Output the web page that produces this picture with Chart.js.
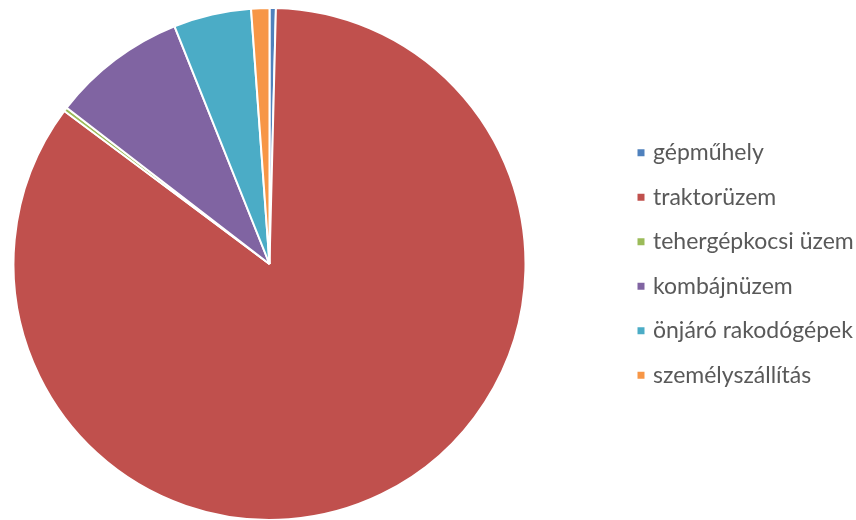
<!DOCTYPE html>
<html lang="hu">
<head>
<meta charset="utf-8">
<title>Üzemek megoszlása</title>
<script src="https://cdn.jsdelivr.net/npm/chart.js@4.4.1/dist/chart.umd.min.js"></script>
<style>
  html, body { margin: 0; padding: 0; background: #fff; overflow: hidden; }
  /* a vászon 80px-lel balra lóg ki, így a kör a bal oldalra kerül */
  #tarolo { position: relative; left: -80px; width: 936px; height: 520px; }
</style>
</head>
<body>
<div id="tarolo">
  <canvas id="grafikon"></canvas>
</div>
<script>
// Kategóriák és részesedések (%)
const kategoriak = [
  'gépműhely',
  'traktorüzem',
  'tehergépkocsi üzem',
  'kombájnüzem',
  'önjáró rakodógépek',
  'személyszállítás'
];
const reszesedes = [0.4, 84.8, 0.25, 8.5, 4.9, 1.15];
const szinek = ['#4F81BD', '#C0504D', '#9BBB59', '#8064A2', '#4BACC6', '#F79646'];

// Jelmagyarázat: a szelet fehér kerete nélkül
function jelmagyarazatElemek(chart) {
  const alap = Chart.overrides.doughnut.plugins.legend.labels.generateLabels;
  return alap(chart).map(elem => ({ ...elem, lineWidth: 0 }));
}

const ctx = document.getElementById('grafikon').getContext('2d');
new Chart(ctx, {
  type: 'pie',
  data: {
    labels: kategoriak,
    datasets: [{
      data: reszesedes,
      backgroundColor: szinek,
      borderColor: '#ffffff',
      borderWidth: 2
    }]
  },
  options: {
    responsive: true,
    maintainAspectRatio: false,
    animation: false,
    radius: 256,
    layout: {
      padding: { left: 0, right: 0, top: 8, bottom: 0 }
    },
    plugins: {
      legend: {
        position: 'right',
        maxWidth: 237,
        labels: {
          usePointStyle: true,
          pointStyle: 'rect',
          boxWidth: 1,
          boxHeight: 7,
          padding: 21.5,
          color: '#595959',
          font: { family: 'Lato', size: 23 },
          generateLabels: jelmagyarazatElemek
        }
      },
      tooltip: { enabled: false }
    }
  }
});
</script>
</body>
</html>
